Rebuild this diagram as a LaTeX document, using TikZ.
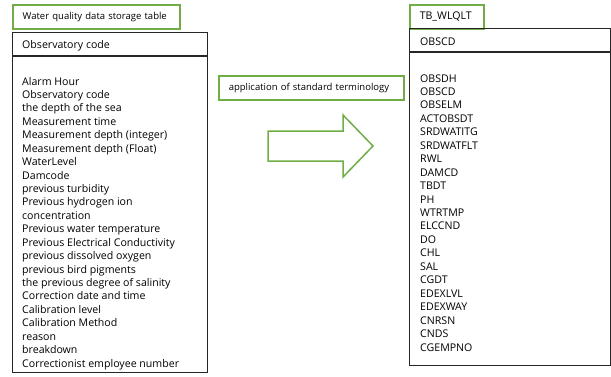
\documentclass[tikz,border=0pt]{standalone}
\usepackage{fontspec}
\setmainfont{Open Sans}
\definecolor{boxgreen}{RGB}{112,173,71}
\tikzset{
  greenbox/.style={draw=boxgreen,line width=1.5pt,inner xsep=10pt,inner ysep=0pt,align=left,font=\fontsize{9.5}{11}\selectfont,text height=7pt,text depth=2pt},
  tablebox/.style={draw=black!85,line width=1.1pt,inner sep=0pt},
  fieldtext/.style={inner sep=0pt,anchor=base west,font=\fontsize{10.6}{12}\selectfont}
}
\begin{document}
\begin{tikzpicture}[x=1pt,y=-1pt]
	\useasboundingbox (0,0) rectangle (611,376);
	
	%source table
	\node[greenbox,text width=147,minimum height=24,anchor=north west] (srctitle) at (12,4) {Water quality data storage table};
	\node[tablebox,minimum width=195,minimum height=340,anchor=north west] (srctable) at (12,32) {};
	\draw[black!85,line width=1.1pt] (srctable.west |- 0,56) -- (srctable.east |- 0,56); %header line
	\node[fieldtext] (srckey) at (22,48) {Observatory code};
	\foreach \f [count=\i] in {Alarm Hour,Observatory code,the depth of the sea,Measurement time,Measurement depth (integer),Measurement depth (Float),WaterLevel,Damcode,previous turbidity,Previous hydrogen ion,concentration,Previous water temperature,Previous Electrical Conductivity,previous dissolved oxygen,previous bird pigments,the previous degree of salinity,Correction date and time,Calibration level,Calibration Method,reason,breakdown,Correctionist employee number}
	  \node[fieldtext] (srcf\i) at (22,{85+13.43*(\i-1)}) {\f}; %fields
	
	%mapping
	\node[greenbox,text width=165,minimum height=24,anchor=north west] (mapping) at (218,75) {application of standard terminology};
	\draw[boxgreen,line width=1.5pt,line join=miter] (268,131) -- (343,131) -- (343,115) -- (373,146) -- (343,177) -- (343,161) -- (268,161) -- cycle; %block arrow
	
	%target table
	\node[greenbox,text width=54,minimum height=24,anchor=north west,font=\fontsize{10.6}{12}\selectfont] (tgttitle) at (409,4) {TB\_WLQLT};
	\node[tablebox,minimum width=201,minimum height=337,anchor=north west] (tgttable) at (409,28) {};
	\draw[black!85,line width=1.1pt] (tgttable.west |- 0,52) -- (tgttable.east |- 0,52); %header line
	\node[fieldtext] (tgtkey) at (420,45) {OBSCD};
	\foreach \f [count=\i] in {OBSDH,OBSCD,OBSELM,ACTOBSDT,SRDWATITG,SRDWATFLT,RWL,DAMCD,TBDT,PH,WTRTMP,ELCCND,DO,CHL,SAL,CGDT,EDEXLVL,EDEXWAY,CNRSN,CNDS,CGEMPNO}
	  \node[fieldtext] (tgtf\i) at (420,{82+13.45*(\i-1)}) {\f}; %fields
\end{tikzpicture}
\end{document}
